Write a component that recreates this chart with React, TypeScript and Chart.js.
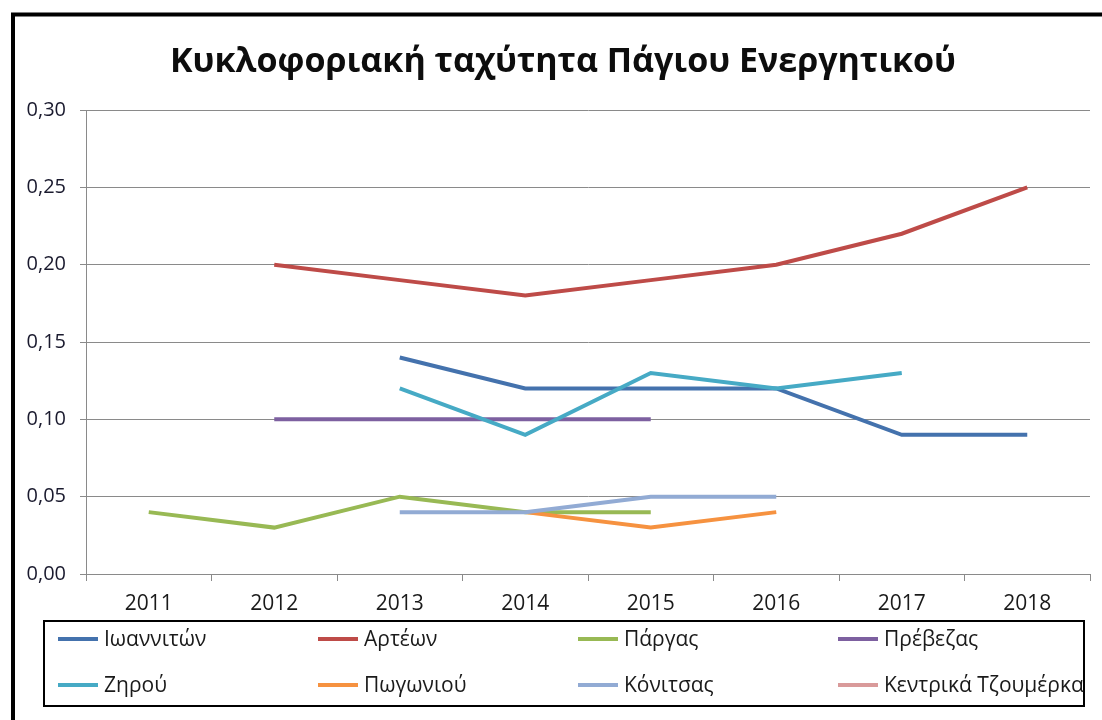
import React, { useEffect, useRef } from "react";
import { Chart, registerables } from "chart.js";

Chart.register(...registerables);

const TITLE = "Κυκλοφοριακή ταχύτητα Πάγιου Ενεργητικού";
const years = ["2011", "2012", "2013", "2014", "2015", "2016", "2017", "2018"];
const yTicks = [0, 0.05, 0.1, 0.15, 0.2, 0.25, 0.3];

const seriesNames = [
  "Ιωαννιτών",
  "Αρτέων",
  "Πάργας",
  "Πρέβεζας",
  "Ζηρού",
  "Πωγωνιού",
  "Κόνιτσας",
  "Κεντρικά Τζουμέρκα",
];
const ioannina = [null, null, 0.14, 0.12, 0.12, 0.12, 0.09, 0.09];
const arta = [null, 0.2, 0.19, 0.18, 0.19, 0.2, 0.22, 0.25];
const parga = [0.04, 0.03, 0.05, 0.04, 0.04, null, null, null];
const preveza = [null, 0.1, 0.1, 0.1, 0.1, null, null, null];
const zirou = [null, null, 0.12, 0.09, 0.13, 0.12, 0.13, null];
const pogoni = [null, null, null, 0.04, 0.03, 0.04, null, null];
const konitsa = [null, null, 0.04, 0.04, 0.05, 0.05, null, null];
const tzoumerka = [null, null, null, null, null, null, null, null];
const seriesValues = [ioannina, arta, parga, preveza, zirou, pogoni, konitsa, tzoumerka];
const seriesColors = [
  "#4472ad",
  "#be4b48",
  "#98b954",
  "#7d60a0",
  "#46aac5",
  "#f69240",
  "#92abd4",
  "#d99a9a",
];

const FONT = "'Open Sans', 'Noto Sans', sans-serif";

const decorPlugin = {
  id: "decor",
  afterDraw(chart: any) {
    const ctx = chart.ctx as CanvasRenderingContext2D;
    ctx.save();
    // outer frame
    ctx.strokeStyle = "#000";
    ctx.lineWidth = 4;
    ctx.strokeRect(13, 14.5, 1110, 740);
    // title
    ctx.fillStyle = "#0d0d0d";
    ctx.font = `bold 34px ${FONT}`;
    ctx.textAlign = "center";
    ctx.textBaseline = "middle";
    ctx.fillText(TITLE, 563, 62);
    // legend box
    ctx.lineWidth = 2;
    ctx.strokeRect(44, 621, 1040, 85);
    ctx.textAlign = "left";
    ctx.font = `21px ${FONT}`;
    chart.data.datasets.forEach((ds: any, i: number) => {
      const col = i % 4;
      const row = Math.floor(i / 4);
      const x0 = 58 + col * 260;
      const y = 639 + row * 46;
      ctx.strokeStyle = ds.borderColor;
      ctx.lineWidth = 4;
      ctx.beginPath();
      ctx.moveTo(x0, y);
      ctx.lineTo(x0 + 40, y);
      ctx.stroke();
      ctx.fillStyle = "#1a1a1a";
      ctx.fillText(ds.label, x0 + 46, y + 1);
    });
    ctx.restore();
  },
};

export default function App() {
  const ref = useRef<HTMLCanvasElement | null>(null);
  useEffect(() => {
    if (!ref.current) return;
    const chart = new Chart(ref.current, {
      type: "line",
      data: {
        labels: years,
        datasets: seriesNames.map((name, i) => ({
          label: name,
          data: seriesValues[i],
          borderColor: seriesColors[i],
          backgroundColor: seriesColors[i],
          borderWidth: 4,
          pointRadius: 0,
          tension: 0,
          spanGaps: false,
          order: seriesNames.length - i,
        })),
      },
      options: {
        responsive: false,
        animation: false,
        layout: { padding: { left: 0, right: 12, top: 110, bottom: 106 } },
        plugins: {
          legend: { display: false },
          title: { display: false },
          tooltip: { enabled: false },
        },
        scales: {
          x: {
            type: "category",
            offset: true,
            afterFit: (s: any) => {
              s.height = 40;
            },
            grid: {
              offset: true,
              drawOnChartArea: false,
              tickLength: 7,
              color: "#8a8a8a",
              lineWidth: 1,
            },
            border: { color: "#8a8a8a", width: 1 },
            ticks: {
              color: "#1a1a1a",
              font: { family: FONT, size: 21 },
              padding: 10,
              maxRotation: 0,
            },
          },
          y: {
            min: 0,
            max: 0.3,
            afterFit: (s: any) => {
              s.width = 86;
            },
            afterBuildTicks: (s: any) => {
              s.ticks = yTicks.map((v) => ({ value: v }));
            },
            grid: {
              color: "#8a8a8a",
              lineWidth: 1,
              tickLength: 6,
            },
            border: { color: "#8a8a8a", width: 1 },
            ticks: {
              color: "#1a1a2e",
              font: { family: FONT, size: 20 },
              padding: 14,
              callback: (v: any) => Number(v).toFixed(2).replace(".", ","),
            },
          },
        },
      },
      plugins: [decorPlugin],
    });
    return () => chart.destroy();
  }, []);
  return (
    <div style={{ position: "fixed", left: 0, top: 0, width: 1102, height: 720, background: "#fff" }}>
      <canvas ref={ref} width={1102} height={720} style={{ display: "block" }} />
    </div>
  );
}
